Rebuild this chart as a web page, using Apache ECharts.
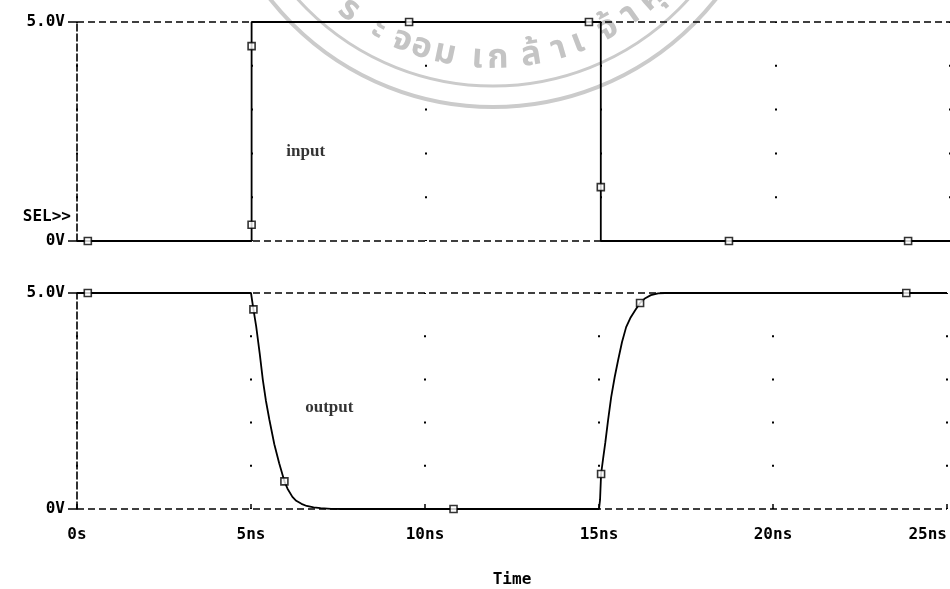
<!DOCTYPE html>
<html>
<head>
<meta charset="utf-8">
<script src="https://cdn.jsdelivr.net/npm/echarts@6/dist/echarts.min.js"></script>
<style>
  html, body { margin: 0; padding: 0; background: #ffffff; }
  #chart { width: 950px; height: 589px; }
</style>
</head>
<body>
<div id="chart"></div>
<script>
// Time axis (ns)
const timeMin = 0, timeMax = 25, timeStep = 5;
// Voltage axis (V)
const voltMin = 0, voltMax = 5;
const voltLabels = { 0: '0V', 5: '5.0V' };

// input: pulse 0 -> 5 V at 5 ns, back to 0 V at 15 ns
const inputTime = [0, 5, 5, 15, 15, 25];
const inputVolt = [0, 0, 5, 5, 0, 0];
const inputMarkTime = [0.31, 5, 5, 9.51, 14.66, 15, 18.67, 23.8];
const inputMarkVolt = [0, 4.45, 0.37, 5, 5, 1.23, 0, 0];

// output: inverted, with finite fall / rise
const outputTime = [0, 5.0, 5.07, 5.15, 5.25, 5.34, 5.43, 5.53, 5.67, 5.81, 5.96, 6.05, 6.19, 6.3, 6.45,
                    6.6, 6.8, 7.0, 7.3, 7.6,
                    15.0, 15.03, 15.06, 15.12, 15.18, 15.26, 15.35, 15.45, 15.55, 15.66, 15.78, 15.9,
                    16.04, 16.18, 16.33, 16.49, 16.7, 16.9, 25];
const outputVolt = [5, 5, 4.62, 4.22, 3.6, 2.99, 2.5, 2.06, 1.5, 1.06, 0.64, 0.47, 0.28, 0.19, 0.12,
                    0.07, 0.04, 0.02, 0.005, 0,
                    0, 0.21, 0.81, 1.18, 1.53, 2.05, 2.59, 3.05, 3.45, 3.86, 4.21, 4.42,
                    4.6, 4.77, 4.88, 4.95, 4.99, 5, 5];
const outputMarkTime = [0.31, 5.07, 5.96, 10.82, 15.06, 16.18, 23.83];
const outputMarkVolt = [5, 4.62, 0.64, 0, 0.81, 4.77, 5];

// trace names written inside each plot
const traceNames = ['input', 'output'];
const traceNameTime = [6.55, 7.25];
const traceNameVolt = [2.05, 2.35];

const zip = (a, b) => a.map((v, i) => [v, b[i]]);

const MONO = '"DejaVu Sans Mono", "Liberation Mono", monospace';
const SERIF = '"Liberation Serif", "DejaVu Serif", serif';
const INK = '#000000';

// light seal printed behind the plots
const seal = { cx: 493, cy: -177, textR: 238, rings: [[263, 3], [284, 4]] };
const sealGlyphs = ['พ', 'ร', 'ะ', 'จ', 'อ', 'ม', 'เ', 'ก', 'ล้', 'า', 'เ', 'จ้', 'า', 'คุ', 'ณ'];
const sealAngles = [-47, -37.6, -29, -22.6, -17.6, -11.8, -3.8, 1.2, 9.3, 16.2, 21.1, 29.2, 35.5, 42, 50];

const sealGraphics = [];
seal.rings.forEach(([r, w]) => {
  sealGraphics.push({
    type: 'circle', silent: true, z: -10,
    shape: { cx: seal.cx, cy: seal.cy, r: r },
    style: { fill: null, stroke: '#cbcbcb', lineWidth: w }
  });
});
sealGlyphs.forEach((g, i) => {
  const a = sealAngles[i] * Math.PI / 180;
  sealGraphics.push({
    type: 'text', silent: true, z: -10,
    x: seal.cx + seal.textR * Math.sin(a),
    y: seal.cy + seal.textR * Math.cos(a),
    rotation: a,
    style: {
      text: g, fill: '#c4c4c4', align: 'center', verticalAlign: 'middle',
      font: 'bold 34px "Noto Sans Thai", "Noto Sans", sans-serif'
    }
  });
});

function makeX(gridIndex, withLabels) {
  const dotGap = gridIndex === 0 ? 41.8 : 41.2;
  return {
    type: 'value', gridIndex: gridIndex,
    min: timeMin, max: timeMax, interval: timeStep,
    axisLine: { show: false },
    axisTick: withLabels
      ? { show: true, inside: true, length: 5, lineStyle: { color: INK, width: 1.5 } }
      : { show: false },
    axisLabel: withLabels ? {
      show: true, margin: 18, color: INK, fontFamily: MONO, fontWeight: 'bold', fontSize: 16,
      alignMaxLabel: 'right',
      formatter: v => (v === 0 ? '0s' : v + 'ns')
    } : { show: false },
    splitLine: {
      show: true,
      lineStyle: { color: INK, width: 2, type: [2, dotGap], dashOffset: 1 }
    },
    name: withLabels ? 'Time' : '',
    nameLocation: 'middle', nameGap: 63,
    nameTextStyle: { color: INK, fontFamily: MONO, fontWeight: 'bold', fontSize: 16 }
  };
}

function makeY(gridIndex) {
  return {
    type: 'value', gridIndex: gridIndex,
    min: voltMin, max: voltMax, interval: voltMax - voltMin,
    axisLine: { show: true, lineStyle: { color: INK, width: 1.6, type: [7, 3] } },
    axisTick: { show: true, length: 9, lineStyle: { color: INK, width: 1.5 } },
    axisLabel: {
      show: true, margin: 12, color: INK, fontFamily: MONO, fontWeight: 'bold', fontSize: 16,
      formatter: v => voltLabels[v]
    },
    splitLine: { show: true, lineStyle: { color: INK, width: 1.6, type: [7, 4] } }
  };
}

const markStyle = { color: '#ffffff', borderColor: INK, borderWidth: 1.6 };

const chart = echarts.init(document.getElementById('chart'), null, { renderer: 'canvas' });
chart.setOption({
  backgroundColor: '#ffffff',
  animation: false,
  grid: [
    { left: 77, right: 0, top: 22, height: 219 },
    { left: 77, right: 0, top: 293, height: 216 }
  ],
  xAxis: [makeX(0, false), makeX(1, true)],
  yAxis: [makeY(0), makeY(1)],
  graphic: sealGraphics.concat([{
    type: 'text', x: 71, y: 217,
    style: {
      text: 'SEL>>', fill: INK, align: 'right', verticalAlign: 'middle',
      font: 'bold 16px ' + MONO
    }
  }]),
  series: [
    {
      name: 'input', type: 'line', xAxisIndex: 0, yAxisIndex: 0,
      data: zip(inputTime, inputVolt), showSymbol: false,
      lineStyle: { color: INK, width: 1.8 }, z: 3
    },
    {
      name: 'output', type: 'line', xAxisIndex: 1, yAxisIndex: 1,
      data: zip(outputTime, outputVolt), showSymbol: false,
      lineStyle: { color: INK, width: 1.8 }, z: 3
    },
    {
      type: 'scatter', xAxisIndex: 0, yAxisIndex: 0, symbol: 'rect', symbolSize: 7,
      data: zip(inputMarkTime, inputMarkVolt), itemStyle: markStyle, z: 4
    },
    {
      type: 'scatter', xAxisIndex: 1, yAxisIndex: 1, symbol: 'rect', symbolSize: 7,
      data: zip(outputMarkTime, outputMarkVolt), itemStyle: markStyle, z: 4
    },
    ...traceNames.map((n, i) => ({
      type: 'scatter', xAxisIndex: i, yAxisIndex: i, symbolSize: 0, silent: true,
      data: [{ value: [traceNameTime[i], traceNameVolt[i]], name: n }],
      label: {
        show: true, position: 'inside', formatter: '{b}', color: INK,
        fontFamily: SERIF, fontWeight: 'bold', fontSize: 17
      }
    }))
  ]
});
</script>
</body>
</html>
